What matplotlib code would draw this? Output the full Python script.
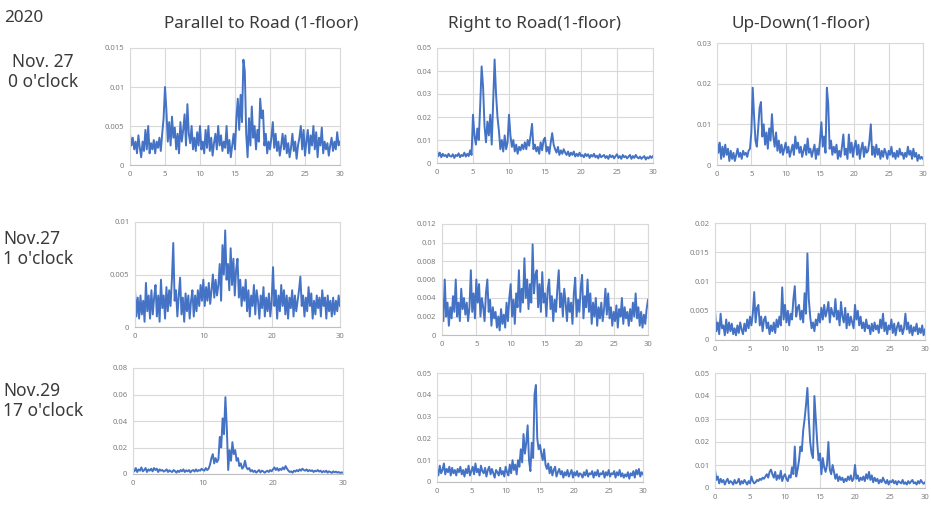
import matplotlib
matplotlib.use("Agg")
import matplotlib.pyplot as plt
import numpy as np

plt.rcParams['font.family'] = ['Noto Sans', 'DejaVu Sans']

# frequency axis (Hz), 0.2 Hz steps
freq = np.linspace(0, 30, 151)

# spectra, amplitudes in units of 1e-4
par_nov27_0h = [40, 25, 35, 20, 30, 15,
    38, 22, 10, 30, 18,  45, 20, 50, 15, 28,  20, 32, 15, 30, 22,
    35, 18, 40, 60, 100,  70, 30, 55, 25, 62,  35, 48, 20, 40, 15,
    55, 30, 45, 65, 25,  78, 40, 28, 50, 20,  35, 18, 42, 25, 50,
    20, 30, 15, 45, 22,  50, 18, 35, 12, 28,  40, 20, 50, 25, 38,
    18, 30, 22, 50, 15,  32, 10, 25, 40, 20,  60, 85, 45, 90, 55,
    135, 120, 40, 10, 60,  25, 75, 35, 50, 20,  45, 30, 85, 60, 70,
    25, 40, 15, 30, 20,  35, 55, 22, 40, 18,  30, 12, 25, 40, 20,
    38, 15, 28, 10, 22,  40, 18, 30, 8, 25,  35, 50, 20, 45, 12,
    30, 45, 15, 38, 25,  50, 20, 42, 10, 35,  25, 48, 15, 30, 20,
    28, 12, 25, 35, 18,  30, 20, 42, 25, 30]
right_nov27_0h = [55, 30, 45, 25, 40, 30,
    35, 25, 40, 30, 28,  38, 22, 35, 30, 42,  25, 35, 30, 45, 28,
    40, 30, 55, 35, 210,  120, 80, 150, 100, 250,  420, 330, 160, 90, 180,
    120, 210, 80, 260, 450,  300, 200, 140, 60, 100,  50, 120, 60, 90, 210,
    120, 70, 100, 50, 80,  40, 70, 55, 80, 60,  90, 60, 100, 75, 120,
    170, 60, 80, 50, 70,  40, 90, 55, 100, 110,  50, 70, 40, 90, 130,
    80, 60, 45, 70, 35,  55, 40, 60, 45, 35,  50, 30, 45, 35, 50,
    28, 40, 30, 45, 30,  35, 25, 40, 30, 38,  22, 35, 28, 40, 25,
    32, 20, 38, 25, 30,  35, 22, 30, 18, 35,  25, 32, 20, 30, 38,
    22, 30, 18, 35, 25,  30, 20, 28, 35, 18,  30, 22, 35, 25, 20,
    28, 18, 25, 30, 15,  25, 20, 30, 22, 30]
ud_nov27_0h = [60, 30, 55, 15, 45, 20,
    50, 25, 40, 10, 35,  15, 30, 10, 25, 40,  20, 30, 15, 35, 25,
    30, 20, 35, 40, 80,  190, 120, 60, 45, 90,  140, 155, 70, 100, 50,
    80, 40, 90, 60, 125,  70, 45, 80, 35, 60,  30, 50, 25, 40, 55,
    30, 45, 20, 35, 50,  25, 70, 40, 55, 30,  45, 20, 35, 50, 25,
    65, 30, 40, 20, 35,  50, 15, 40, 25, 60,  105, 45, 70, 30, 190,
    150, 40, 60, 25, 45,  30, 50, 15, 35, 20,  45, 75, 25, 40, 15,
    75, 30, 55, 20, 45,  60, 25, 50, 15, 40,  55, 20, 45, 30, 35,
    60, 100, 25, 45, 20,  50, 25, 40, 15, 35,  20, 40, 30, 15, 35,
    25, 45, 20, 30, 15,  35, 20, 40, 25, 30,  15, 30, 20, 45, 25,
    35, 15, 40, 20, 30,  10, 25, 15, 20, 15]

par_nov27_1h = [35, 10, 28, 8, 30, 12,
    25, 5, 42, 15, 30,  8, 35, 12, 28, 40,  10, 30, 5, 45, 18,
    30, 8, 38, 15, 35,  20, 45, 80, 25, 35,  10, 30, 47, 12, 28,
    5, 32, 15, 30, 8,  25, 35, 10, 30, 15,  35, 20, 40, 25, 45,
    20, 38, 25, 42, 22,  35, 50, 28, 45, 30,  40, 60, 25, 78, 50,
    92, 45, 60, 35, 75,  40, 65, 30, 55, 65,  28, 45, 20, 38, 25,
    45, 15, 35, 10, 30,  20, 40, 12, 35, 25,  8, 30, 18, 38, 10,
    28, 15, 32, 10, 25,  57, 20, 35, 8, 30,  15, 40, 20, 35, 12,
    30, 8, 28, 18, 35,  10, 30, 15, 25, 35,  48, 20, 30, 10, 28,
    15, 38, 20, 32, 8,  25, 12, 30, 18, 28,  10, 35, 20, 28, 8,
    30, 15, 25, 10, 28,  12, 25, 15, 30, 20]
right_nov27_1h = [40, 15, 60, 20, 35, 10,
    30, 18, 42, 25, 60,  20, 35, 15, 50, 28,  40, 22, 35, 15, 30,
    70, 25, 45, 18, 60,  35, 55, 20, 40, 30,  15, 45, 60, 25, 38,
    10, 30, 18, 25, 8,  20, 5, 28, 12, 22,  8, 35, 15, 40, 55,
    20, 38, 12, 45, 30,  70, 25, 50, 35, 83,  40, 60, 28, 55, 35,
    98, 45, 65, 70, 30,  55, 25, 68, 35, 45,  20, 50, 60, 28, 42,
    15, 38, 25, 50, 70,  30, 45, 20, 50, 35,  15, 40, 25, 35, 12,
    45, 62, 20, 38, 25,  50, 65, 18, 42, 30,  60, 25, 45, 12, 35,
    20, 40, 10, 30, 18,  35, 15, 28, 50, 22,  45, 18, 30, 10, 25,
    15, 32, 8, 28, 20,  40, 12, 30, 18, 25,  10, 28, 15, 35, 20,
    45, 18, 30, 10, 25,  8, 22, 12, 28, 38]
ud_nov27_1h = [50, 15, 30, 10, 45, 20,
    25, 8, 35, 12, 30,  15, 28, 10, 20, 8,  25, 12, 30, 18, 10,
    28, 15, 35, 20, 40,  25, 45, 82, 30, 55,  60, 25, 40, 15, 35,
    40, 20, 30, 10, 25,  15, 30, 12, 35, 22,  40, 25, 90, 35, 60,
    30, 50, 25, 45, 35,  70, 92, 40, 55, 60,  35, 50, 30, 80, 45,
    148, 70, 40, 20, 30,  15, 35, 25, 45, 30,  55, 35, 60, 40, 50,
    65, 30, 55, 45, 40,  70, 35, 50, 25, 65,  40, 30, 55, 20, 45,
    25, 40, 30, 20, 60,  35, 50, 25, 40, 20,  30, 15, 35, 20, 25,
    10, 28, 15, 30, 18,  25, 12, 35, 20, 45,  15, 30, 10, 25, 18,
    35, 12, 28, 8, 22,  30, 15, 25, 10, 20,  45, 18, 30, 12, 25,
    8, 22, 15, 28, 10,  20, 12, 25, 8, 18]

par_nov29_17h = [40, 20, 45, 15, 35, 25,
    50, 20, 30, 45, 15,  35, 25, 40, 20, 45,  30, 40, 15, 35, 25,
    30, 18, 25, 35, 15,  28, 20, 15, 30, 22,  10, 25, 15, 30, 20,
    35, 15, 28, 20, 30,  12, 25, 30, 18, 35,  20, 30, 25, 40, 30,
    25, 45, 30, 40, 70,  120, 150, 80, 120, 90,  110, 280, 200, 420, 300,
    580, 350, 30, 180, 100,  240, 150, 180, 100, 120,  60, 80, 40, 55, 100,
    50, 35, 45, 20, 30,  15, 25, 10, 20, 30,  12, 25, 20, 10, 18,
    25, 15, 30, 20, 35,  50, 30, 45, 25, 40,  30, 50, 35, 60, 40,
    25, 15, 20, 10, 25,  18, 30, 20, 35, 25,  40, 30, 25, 35, 20,
    30, 22, 28, 15, 25,  20, 30, 18, 25, 12,  22, 15, 25, 10, 20,
    15, 8, 20, 12, 18,  10, 15, 8, 12, 10]
right_nov29_17h = [60, 30, 75, 40, 55, 85,
    35, 60, 45, 70, 30,  65, 40, 55, 30, 60,  45, 70, 35, 55, 25,
    60, 40, 75, 30, 50,  70, 35, 85, 45, 60,  30, 75, 50, 40, 65,
    25, 55, 70, 35, 60,  40, 20, 55, 45, 30,  65, 35, 50, 25, 70,
    45, 30, 80, 40, 100,  55, 80, 35, 100, 70,  150, 90, 220, 130, 180,
    260, 100, 50, 180, 110,  400, 445, 200, 150, 170,  130, 100, 150, 80, 60,
    85, 40, 70, 30, 55,  70, 25, 45, 60, 35,  50, 20, 45, 30, 55,
    25, 40, 55, 20, 45,  30, 50, 25, 40, 35,  20, 45, 30, 55, 25,
    40, 35, 50, 20, 45,  30, 55, 25, 40, 35,  50, 20, 45, 30, 55,
    25, 40, 35, 50, 20,  45, 30, 55, 25, 40,  20, 35, 25, 45, 15,
    40, 30, 50, 20, 55,  35, 60, 25, 45, 35]
ud_nov29_17h = [80, 35, 50, 20, 40, 25,
    35, 15, 30, 40, 20,  30, 25, 15, 35, 20,  25, 40, 15, 30, 20,
    35, 25, 15, 30, 20,  50, 30, 20, 25, 35,  30, 40, 35, 45, 40,
    50, 60, 45, 70, 80,  60, 45, 70, 35, 55,  40, 75, 30, 50, 60,
    40, 30, 55, 45, 90,  60, 180, 50, 80, 120,  180, 160, 250, 300, 360,
    435, 300, 200, 150, 130,  400, 300, 200, 120, 150,  60, 130, 90, 70, 100,
    200, 80, 60, 100, 70,  40, 60, 30, 50, 35,  45, 25, 40, 30, 50,
    35, 55, 30, 40, 100,  40, 55, 30, 45, 35,  50, 30, 60, 40, 70,
    35, 55, 25, 45, 30,  40, 20, 35, 25, 45,  30, 20, 35, 15, 30,
    25, 35, 20, 30, 15,  30, 25, 20, 35, 18,  25, 15, 30, 20, 28,
    35, 20, 25, 15, 30,  20, 35, 25, 18, 25]

col_titles = ["Parallel to Road (1-floor)", "Right to Road(1-floor)", "Up-Down(1-floor)"]

series = [[par_nov27_0h, right_nov27_0h, ud_nov27_0h],
          [par_nov27_1h, right_nov27_1h, ud_nov27_1h],
          [par_nov29_17h, right_nov29_17h, ud_nov29_17h]]

# y-axis limits / tick steps and x tick steps per panel
y_max = [[0.015, 0.05, 0.03], [0.01, 0.012, 0.02], [0.08, 0.05, 0.05]]
y_step = [[0.005, 0.01, 0.01], [0.005, 0.002, 0.005], [0.02, 0.01, 0.01]]
x_step = [[5, 5, 5], [10, 5, 5], [10, 5, 5]]

W, H = 931, 505
# plot boxes in pixels: left, top, right, bottom
boxes = [[(130, 48, 340, 165), (437, 48, 653, 163), (717, 43, 923, 165)],
         [(135, 222, 340, 327), (442, 224, 648, 335), (715, 223, 925, 340)],
         [(133, 368, 343, 474), (437, 373, 643, 482), (715, 373, 925, 488)]]

LINE = '#4472C4'
GRID = '#d9d9d9'
TICK = '#7f7f7f'
TEXT = '#3a3a3a'

fig = plt.figure(figsize=(W / 100, H / 100), dpi=100)


def fx(px):
    return px / W


def fy(py):
    return 1 - py / H


for r in range(3):
    for c in range(3):
        l, t, rr, b = boxes[r][c]
        ax = fig.add_axes([fx(l), fy(b), fx(rr) - fx(l), fy(t) - fy(b)])
        vals = np.array(series[r][c]) * 1e-4
        ax.plot(freq, vals, color=LINE, lw=1.4)
        ax.set_xlim(0, 30)
        ax.set_ylim(0, y_max[r][c])
        ax.set_xticks(np.arange(0, 30.1, x_step[r][c]))
        yt = np.arange(0, y_max[r][c] + 1e-9, y_step[r][c])
        ax.set_yticks(yt)
        ax.set_yticklabels(['%g' % round(v, 4) for v in yt])
        ax.grid(True, color=GRID, lw=0.8)
        ax.set_axisbelow(True)
        for s in ax.spines.values():
            s.set_color(GRID)
            s.set_linewidth(0.8)
        ax.spines['bottom'].set_color('#bfbfbf')
        ax.tick_params(length=0, labelsize=5.5, labelcolor=TICK, pad=4)

# column headings
title_x = [261, 534, 801]
for c in range(3):
    fig.text(fx(title_x[c]), fy(24), col_titles[c], ha='center', va='center',
             fontsize=12.3, color=TEXT)

fig.text(fx(4), fy(18), "2020", ha='left', va='center', fontsize=12.3, color=TEXT)
fig.text(fx(43), fy(72), "Nov. 27\n0 o'clock", ha='center', va='center',
         multialignment='center', fontsize=12.5, color=TEXT, linespacing=1.1)
fig.text(fx(3), fy(249), "Nov.27\n1 o'clock", ha='left', va='center',
         fontsize=12.5, color=TEXT, linespacing=1.1)
fig.text(fx(3), fy(401), "Nov.29\n17 o'clock", ha='left', va='center',
         fontsize=12.5, color=TEXT, linespacing=1.1)

fig.savefig("out.png", dpi=100)
